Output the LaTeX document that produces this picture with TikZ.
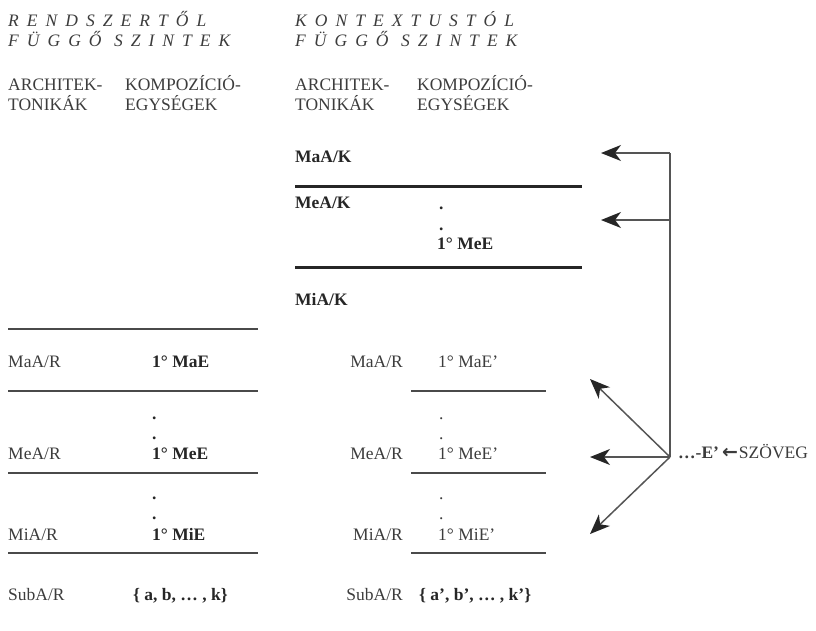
\documentclass[tikz,border=0pt]{standalone}
\usepackage{fontspec}
\setmainfont{Liberation Serif}
\newfontface\spacedit[LetterSpace=46]{Liberation Serif Italic}
\newfontface\arrowglyph{DejaVu Sans Bold}
\usetikzlibrary{arrows.meta}
\definecolor{ink}{HTML}{3C3C3C}
\definecolor{inkdark}{HTML}{262626}
\definecolor{rule}{HTML}{4A4A4A}
\definecolor{arrowline}{HTML}{555555}
\begin{document}
\begin{tikzpicture}[x=1pt,y=-1pt,
  font=\fontsize{17.5}{20}\selectfont,
  txt/.style={anchor=base west, inner sep=0pt, text=ink},
  rtxt/.style={anchor=base east, inner sep=0pt, text=ink},
  btxt/.style={anchor=base west, inner sep=0pt, text=inkdark, font=\fontsize{17.5}{20}\selectfont\bfseries},
  head/.style={anchor=base west, inner sep=0pt, text=ink, font=\fontsize{17.5}{20}\selectfont\spacedit},
  thickrule/.style={draw=inkdark, line width=3pt},
  thinrule/.style={draw=rule, line width=2pt},
  pointer/.style={draw=arrowline, line width=1.5pt,
    -{Stealth[length=20pt, width=16pt, inset=6pt, color=inkdark, fill=inkdark]}}]

\useasboundingbox (0,0) rectangle (816,630);

% --- column headings ---
\node[head] (h1a) at (8,26) {RENDSZERTŐL};
\node[head] (h1b) at (8,46) {FÜGGŐ SZINTEK};
\node[head] (h2a) at (295,26) {KONTEXTUSTÓL};
\node[head] (h2b) at (295,46) {FÜGGŐ SZINTEK};

\node[txt] (s1a) at (8,90) {ARCHITEK-};
\node[txt] (s1b) at (8,110) {TONIKÁK};
\node[txt] (s2a) at (125,90) {KOMPOZÍCIÓ-};
\node[txt] (s2b) at (125,110) {EGYSÉGEK};
\node[txt] (s3a) at (295,90) {ARCHITEK-};
\node[txt] (s3b) at (295,110) {TONIKÁK};
\node[txt] (s4a) at (417,90) {KOMPOZÍCIÓ-};
\node[txt] (s4b) at (417,110) {EGYSÉGEK};

% --- context dependent levels ---
\node[btxt] (maak) at (295,162) {MaA/K};
\draw[thickrule] (295,186) -- (582,186);
\node[btxt] (meak) at (295,208) {MeA/K};
\node[btxt] (kd1) at (439,209) {.};
\node[btxt] (kd2) at (439,230) {.};
\node[btxt] (kmee) at (437,249) {1° MeE};
\draw[thickrule] (295,267) -- (582,267);
\node[btxt] (miak) at (295,305) {MiA/K};

% --- system dependent levels (left) ---
\draw[thinrule] (8,329) -- (258,329);
\node[txt] (lmaa) at (8,367) {MaA/R};
\node[btxt] (lmae) at (152,367) {1° MaE};
\draw[thinrule] (8,391) -- (258,391);
\node[btxt] (ld1) at (152,419) {.};
\node[btxt] (ld2) at (152,439) {.};
\node[txt] (lmea) at (8,459) {MeA/R};
\node[btxt] (lmee) at (152,459) {1° MeE};
\draw[thinrule] (8,473) -- (258,473);
\node[btxt] (ld3) at (152,499) {.};
\node[btxt] (ld4) at (152,519) {.};
\node[txt] (lmia) at (8,540) {MiA/R};
\node[btxt] (lmie) at (152,540) {1° MiE};
\draw[thinrule] (8,553) -- (258,553);
\node[txt] (lsub) at (8,600) {SubA/R};
\node[btxt] (lset) at (133,600) {\{ a, b, … , k\}};

% --- system dependent levels (middle) ---
\node[rtxt] (mmaa) at (403,367) {MaA/R};
\node[txt] (mmae) at (438,367) {1° MaE’};
\draw[thinrule] (411,391) -- (546,391);
\node[txt] (md1) at (439,419) {.};
\node[txt] (md2) at (439,439) {.};
\node[rtxt] (mmea) at (403,459) {MeA/R};
\node[txt] (mmee) at (438,459) {1° MeE’};
\draw[thinrule] (411,473) -- (546,473);
\node[txt] (md3) at (439,499) {.};
\node[txt] (md4) at (439,519) {.};
\node[rtxt] (mmia) at (403,540) {MiA/R};
\node[txt] (mmie) at (438,540) {1° MiE’};
\draw[thinrule] (411,553) -- (546,553);
\node[rtxt] (msub) at (403,600) {SubA/R};
\node[btxt] (mset) at (419,600) {\{ a’, b’, … , k’\}};

% --- text feedback arrows ---
\coordinate (jtop) at (670,153);
\coordinate (jmid) at (670,220);
\coordinate (jc) at (670,457);
\coordinate (tmaak) at (601,153);
\coordinate (tmeak) at (601,220);
\coordinate (tup) at (590,379);
\coordinate (tleft) at (590,457);
\coordinate (tdown) at (590,534);

\draw[draw=arrowline, line width=1.5pt] (jtop) -- (jc);
\draw[pointer] (jtop) -- (tmaak);
\draw[pointer] (jmid) -- (tmeak);
\draw[pointer] (jc) -- (tup);
\draw[pointer] (jc) -- (tleft);
\draw[pointer] (jc) -- (tdown);

\node[txt] (szoveg) at (678,458) {\textbf{…-E’}\hspace{3pt}{\arrowglyph\fontsize{19}{20}\selectfont ←}\hspace{1pt}SZÖVEG};
\end{tikzpicture}
\end{document}
